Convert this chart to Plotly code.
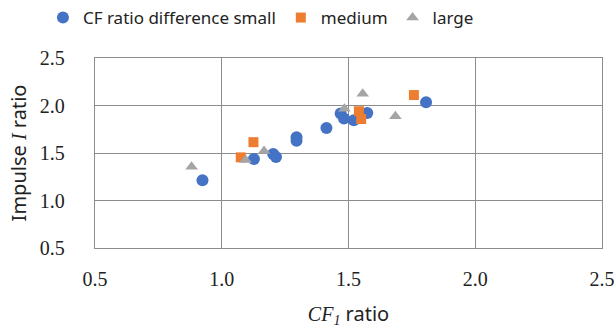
import plotly.graph_objects as go

small_x = [0.924, 1.127, 1.203, 1.214, 1.295, 1.295, 1.413, 1.469, 1.482, 1.521, 1.574, 1.806]
small_y = [1.213, 1.436, 1.489, 1.457, 1.667, 1.628, 1.763, 1.915, 1.862, 1.844, 1.922, 2.035]
medium_x = [1.075, 1.125, 1.541, 1.550, 1.758]
medium_y = [1.454, 1.614, 1.940, 1.858, 2.110]
large_x = [0.881, 1.094, 1.167, 1.484, 1.556, 1.685]
large_y = [1.354, 1.426, 1.521, 1.965, 2.124, 1.886]

tick_vals = [0.5, 1.0, 1.5, 2.0, 2.5]
tick_text = ["0.5", "1.0", "1.5", "2.0", "2.5"]

fig = go.Figure()
fig.add_trace(go.Scatter(x=small_x, y=small_y, mode="markers", name="CF ratio difference small",
                         marker=dict(symbol="circle", size=12, color="#4472C4")))
fig.add_trace(go.Scatter(x=medium_x, y=medium_y, mode="markers", name="medium",
                         marker=dict(symbol="square", size=10, color="#ED7D31")))
fig.add_trace(go.Scatter(x=large_x, y=large_y, mode="markers", name="large",
                         marker=dict(symbol="triangle-up", size=11, color="#A5A5A5")))

axis_common = dict(range=[0.5, 2.5], tickvals=tick_vals, ticktext=tick_text,
                   showgrid=True, gridcolor="#8C8C8C", gridwidth=1.3,
                   showline=True, linecolor="#8C8C8C", linewidth=1.3, mirror=True,
                   zeroline=False, ticks="", automargin=False, ticklabeloverflow="allow",
                   tickfont=dict(family="Liberation Serif", size=20, color="#222222"))

fig.update_layout(
    width=614, height=330,
    margin=dict(l=95, r=12, t=58, b=82, autoexpand=False),
    paper_bgcolor="white", plot_bgcolor="white",
    font=dict(family="Noto Sans", size=17, color="#222222"),
    legend=dict(orientation="h", xref="container", x=0.425, xanchor="center",
                yref="container", y=1.0, yanchor="top",
                font=dict(family="Noto Sans", size=17, color="#222222"),
                itemwidth=30, bgcolor="rgba(0,0,0,0)"),
    xaxis=dict(**axis_common, ticklabelstandoff=13,
               title=dict(text="<i><span style='font-family:Liberation Serif'>CF<sub>1</sub></span></i> ratio",
                          font=dict(family="Noto Sans", size=20), standoff=17)),
    yaxis=dict(**axis_common, ticklabelstandoff=25,
               title=dict(text="Impulse <i><span style='font-family:Liberation Serif'>I</span></i> ratio",
                          font=dict(family="Noto Sans", size=20), standoff=7)),
)

fig.write_html("out.html", config={"displayModeBar": False},
               post_script="document.body.style.margin='0';document.body.style.overflow='hidden';")
